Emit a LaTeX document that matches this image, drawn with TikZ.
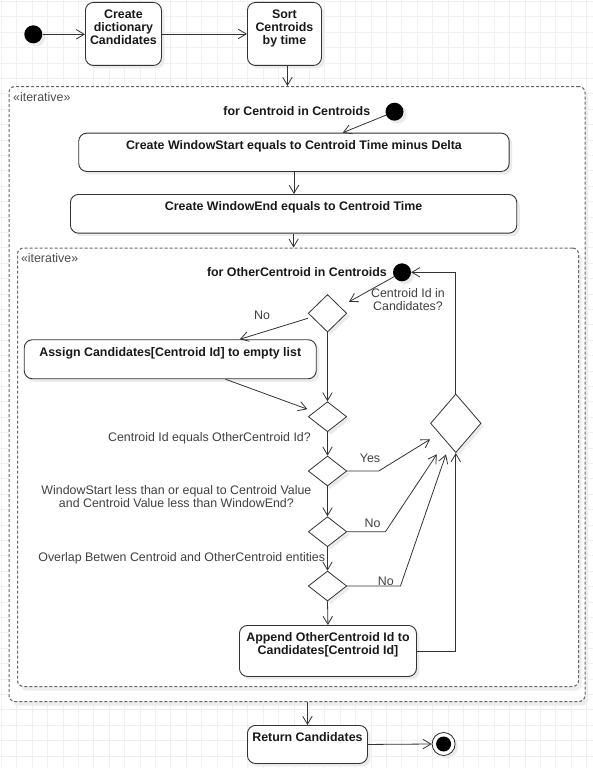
\documentclass[tikz,border=0pt]{standalone}
\usepackage{fontspec}
\setmainfont{Liberation Sans}
\usetikzlibrary{arrows.meta,shapes.geometric,shadows,calc}
\newcommand\bx[3]{\parbox[t][#2pt][t]{#1pt}{\centering\rule{0pt}{16.5pt}#3}}
\tikzset{
  gridline/.style={draw=black!6, line width=0.7pt},
  shd/.style={drop shadow={shadow xshift=3pt, shadow yshift=-3pt, fill=black!8, opacity=1}},
  region/.style={draw=black!60, dash pattern=on 3pt off 2pt, line width=1pt, rounded corners=6pt, fill=white, inner sep=0pt, anchor=north west, drop shadow={shadow xshift=3pt, shadow yshift=-4pt, fill=black!7, opacity=1}},
  act/.style={draw=black!80, line width=0.9pt, rounded corners=8pt, fill=white, inner sep=0pt, anchor=north west, font=\bfseries\fontsize{12.4}{13}\selectfont, text=black!90, shd},
  dec/.style={diamond, draw=black!80, line width=0.8pt, fill=white, inner sep=0pt, minimum width=38.5pt, minimum height=30pt, shd},
  dot/.style={circle, fill=black, inner sep=0pt, minimum size=18pt, shd},
  fin/.style={circle, draw=black!85, line width=0.8pt, fill=white, inner sep=0pt, minimum size=23pt, shd, path picture={\fill[black] (path picture bounding box.center) circle (7.5pt);}},
  arr/.style={draw=black!80, line width=0.8pt, -{Straight Barb[length=8pt,width=9.5pt]}},
  lab/.style={inner sep=0pt, text=black!75, font=\fontsize{12.4}{13}\selectfont},
  blab/.style={inner sep=0pt, text=black!90, font=\bfseries\fontsize{12.4}{13}\selectfont},
}
\begin{document}
\begin{tikzpicture}[x=1pt,y=-1pt]
\useasboundingbox (0,0) rectangle (593,768);
\fill[white] (0,0) rectangle (593,768);
\foreach \i in {0,...,38} { \draw[gridline] ({1.3+15.4*\i},0) -- ({1.3+15.4*\i},768); }
\foreach \j in {0,...,49} { \draw[gridline] (0,{1.3+15.4*\j}) -- (593,{1.3+15.4*\j}); }

% regions
\node[region, minimum width=576pt, minimum height=615pt] (outer) at (8.5,86) {};
\node[region, minimum width=561pt, minimum height=438.5pt] (inner) at (17,247.5) {};
\node[lab, anchor=base west, text=black!70] (iter1) at (13,101) {«iterative»};
\node[lab, anchor=base west, text=black!70] (iter2) at (20.8,262.5) {«iterative»};

% activities
\node[act] (A) at (85,2) {\bx{76}{63}{Create\\dictionary\\Candidates}};
\node[act] (B) at (247,2) {\bx{74}{63}{Sort\\Centroids\\by time}};
\node[act] (box1) at (78.3,132.7) {\bx{430.4}{38.3}{Create WindowStart equals to Centroid Time minus Delta}};
\node[act] (box2) at (70,194) {\bx{446.3}{38.7}{Create WindowEnd equals to Centroid Time}};
\node[act] (assign) at (23.8,339.3) {\bx{292}{39}{Assign Candidates[Centroid Id] to empty list}};
\node[act] (append) at (239,625) {\bx{177}{51}{Append OtherCentroid Id to\\Candidates[Centroid Id]}};
\node[act] (ret) at (247,725) {\bx{120}{38}{Return Candidates}};

% dots and decisions
\node[dot] (s0) at (33.3,34.3) {};
\node[dot] (s1) at (394.5,111.7) {};
\node[dot] (s2) at (402,272.3) {};
\node[dec, minimum height=37.5pt] (D1) at (327.5,313.3) {};
\node[dec] (D2) at (327.5,416.7) {};
\node[dec] (D3) at (327.5,471) {};
\node[dec] (D4) at (327.5,531.7) {};
\node[dec] (D5) at (327.5,586) {};
\node[dec, minimum width=50.5pt, minimum height=58.7pt] (BD) at (455.8,423.3) {};
\node[fin] (fin) at (443.6,744) {};

% labels
\node[blab, anchor=base] (forc) at (296.8,115.4) {for Centroid in Centroids};
\node[blab, anchor=base] (foroc) at (296.9,276.7) {for OtherCentroid in Centroids};
\node[lab, align=center] (cidin) at (408,299.7) {Centroid Id in\\Candidates?};
\node[lab, anchor=base] (no1) at (262,319.4) {No};
\node[lab, anchor=base east] (ceq) at (311,441) {Centroid Id equals OtherCentroid Id?};
\node[lab, anchor=base] (yes) at (370,462.7) {Yes};
\node[lab, align=center] (wst) at (176.4,496.2) {WindowStart less than or equal to Centroid Value\\and Centroid Value less than WindowEnd?};
\node[lab, anchor=base] (no2) at (372.5,527.7) {No};
\node[lab, anchor=base east] (ovl) at (325.3,561) {Overlap Betwen Centroid and OtherCentroid entities};
\node[lab, anchor=base] (no3) at (385.8,585.5) {No};

% connectors
\draw[arr] (s0.east) -- (s0.east -| A.west);
\draw[arr] (A.east) -- (B.west);
\coordinate (bs) at ($(B.south)+(3,0)$);
\draw[arr] (bs) -- (bs |- outer.north);
\draw[arr] (s1) -- ($(box1.north)+(48.8,0)$);
\draw[arr] (box1.south) -- (box1.south |- box2.north);
\draw[arr] (box2.south) -- (box2.south |- inner.north);
\draw[arr] (s2) -- ($(D1.center)+(21.5,-11.5)$);
\draw[arr] ($(D1.west)+(0,5)$) -- ($(assign.north)+(69.5,0)$);
\draw[arr] (D1.south) -- (D2.north);
\draw[arr] ($(assign.south)+(55.2,0)$) -- ($(D2.west)+(-0.5,-7.5)$);
\draw[arr] (D2.south) -- (D3.north);
\draw[arr] (D3.south) -- (D4.north);
\draw[arr] (D4.south) -- (D5.north);
\draw[arr] (D5.south) -- (append.north);
\draw[arr] (D3.east) -- ++(31.6,0) -- ($(BD.west)+(0,16)$);
\draw[arr] (D4.east) -- ++(38.3,0) -- ($(BD.south)+(-19,1.3)$);
\draw[arr] (D5.east) -- ++(53.3,0) -- ($(BD.south)+(-9.8,1.3)$);
\draw[arr] (append.east) -| (BD.south);
\draw[arr] (BD.north) |- (s2.east);
\draw[arr] (ret.north |- outer.south) -- (ret.north);
\draw[arr] (ret.east) -- (fin.west);
\end{tikzpicture}
\end{document}
